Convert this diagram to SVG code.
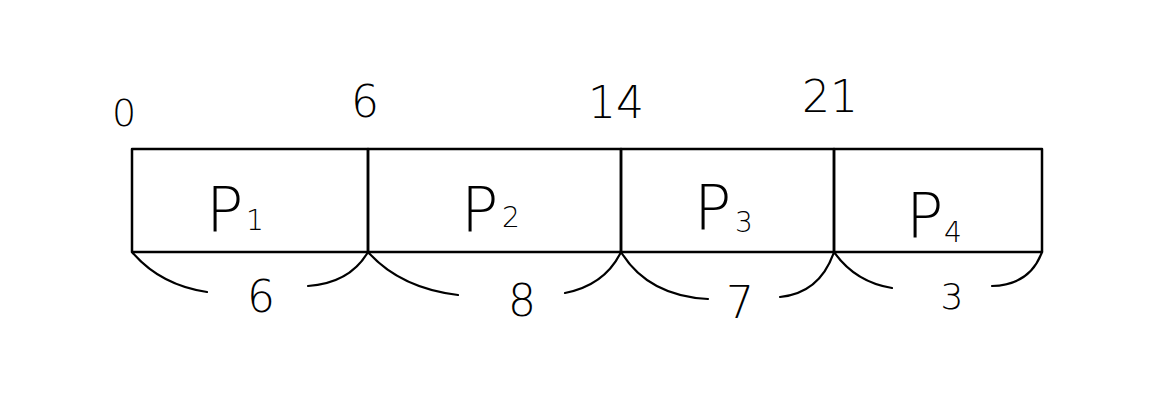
<svg xmlns="http://www.w3.org/2000/svg" width="1153" height="413" viewBox="0 0 1153 413">
<style>
.ln{fill:none;stroke:#000;stroke-width:2.5;stroke-linecap:round;stroke-linejoin:round}
.arc{fill:none;stroke:#000;stroke-width:2.2;stroke-linecap:round}
.t{font-family:"DejaVu Sans","Liberation Sans",sans-serif;font-weight:200;fill:#000}
.p{font-size:62px}
.s{font-size:28px}
.n{font-size:44px;text-anchor:middle}
</style>
<rect width="1153" height="413" fill="#fff"/>
<g id="tick-labels">
<text class="t n" x="124" y="126" style="font-size:38px">0</text>
<text class="t n" x="365" y="117">6</text>
<text class="t n" x="616" y="118">14</text>
<text class="t n" x="830" y="112">21</text>
</g>
<g id="p1"><rect class="ln" x="132" y="149" width="236" height="103"/><text class="t p" x="206" y="232">P</text><text class="t s" x="246" y="230">1</text></g>
<g id="p2"><rect class="ln" x="368" y="149" width="253" height="103"/><text class="t p" x="461" y="232">P</text><text class="t s" x="502" y="227">2</text></g>
<g id="p3"><rect class="ln" x="621" y="149" width="213" height="103"/><text class="t p" x="694" y="230">P</text><text class="t s" x="735" y="232">3</text></g>
<g id="p4"><rect class="ln" x="834" y="149" width="208" height="103"/><text class="t p" x="906" y="238">P</text><text class="t s" x="944" y="242">4</text></g>
<g id="connectors">
<path class="arc" d="M132,252 Q160,285 207,292"/>
<path class="arc" d="M308,286 Q350,283 368,252"/>
<path class="arc" d="M368,252 Q400,288 458,295"/>
<path class="arc" d="M565,293 Q605,285 621,252"/>
<path class="arc" d="M621,252 Q648,296 708,299"/>
<path class="arc" d="M780,297 Q820,293 834,252"/>
<path class="arc" d="M834,252 Q855,282 892,288"/>
<path class="arc" d="M992,286 Q1030,285 1042,252"/>
</g>
<g id="durations">
<text class="t n" x="261" y="312">6</text>
<text class="t n" x="522" y="316">8</text>
<text class="t n" x="740" y="318">7</text>
<text class="t n" x="952" y="309" style="font-size:36px">3</text>
</g>
</svg>
